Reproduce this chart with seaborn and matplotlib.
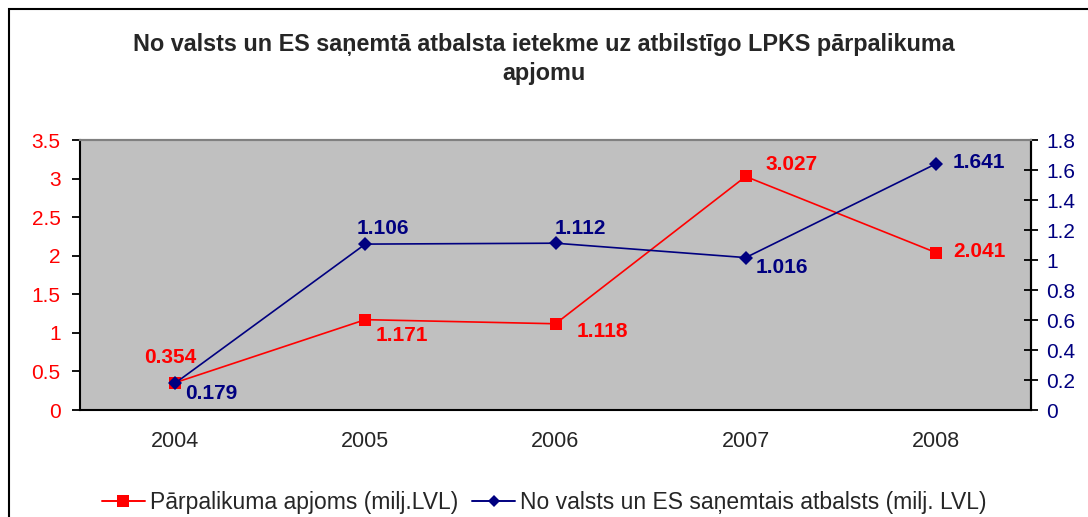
import pandas as pd
import matplotlib.pyplot as plt
import seaborn as sns
from matplotlib.lines import Line2D
from matplotlib.patches import Rectangle

years = ["2004", "2005", "2006", "2007", "2008"]
surplus = [0.354, 1.171, 1.118, 3.027, 2.041]
support = [0.179, 1.106, 1.112, 1.016, 1.641]

surplus_name = "Pārpalikuma apjoms (milj.LVL)"
support_name = "No valsts un ES saņemtais atbalsts (milj. LVL)"
title = "No valsts un ES saņemtā atbalsta ietekme uz atbilstīgo LPKS pārpalikuma\napjomu"

RED = "#FF0000"
NAVY = "#000080"

sns.set_style("white")
plt.rcParams["font.family"] = ["Liberation Sans", "DejaVu Sans"]

df = pd.DataFrame({"year": years, "surplus": surplus, "support": support})

fig = plt.figure(figsize=(10.88, 5.17), dpi=100)
ax = fig.add_axes([80 / 1088, 107 / 517, 951 / 1088, 270 / 517])
ax2 = ax.twinx()

sns.lineplot(data=df, x="year", y="surplus", ax=ax, color=RED, marker="s",
             markersize=8, markeredgewidth=0, linewidth=1.2, sort=False)
sns.lineplot(data=df, x="year", y="support", ax=ax2, color=NAVY, marker="D",
             markersize=7, markeredgewidth=0, linewidth=1.2, sort=False)

ax.set_facecolor("#C0C0C0")
ax.set_xlim(-0.5, 4.5)
ax.set_ylim(0, 3.5)
ax2.set_ylim(0, 1.8)
ax.set_yticks([0, 0.5, 1, 1.5, 2, 2.5, 3, 3.5])
ax.set_yticklabels(["0", "0.5", "1", "1.5", "2", "2.5", "3", "3.5"])
ax2.set_yticks([0, 0.2, 0.4, 0.6, 0.8, 1, 1.2, 1.4, 1.6, 1.8])
ax2.set_yticklabels(["0", "0.2", "0.4", "0.6", "0.8", "1", "1.2", "1.4", "1.6", "1.8"])
ax.set_xlabel("")
ax.set_ylabel("")
ax2.set_ylabel("")

# category labels in the middle, ticks on the boundaries
ax.set_xticks(range(len(years)))
ax.set_xticklabels(years, fontsize=15.5)
ax.set_xticks([i - 0.5 for i in range(len(years) + 1)], minor=True)
ax.tick_params(axis="x", which="major", length=0, pad=15)
ax.tick_params(axis="x", which="minor", direction="inout", length=11, width=1.3, color="black")
ax.tick_params(axis="y", direction="out", length=6, width=1.3, colors=RED, labelsize=15, pad=8)
ax.tick_params(axis="y", color="black")
ax2.tick_params(axis="y", direction="inout", length=10, width=1.3, colors=NAVY, labelsize=15, pad=6)
ax2.tick_params(axis="y", color="black")

for a in (ax, ax2):
    for side in ("left", "bottom", "right"):
        a.spines[side].set_color("black")
        a.spines[side].set_linewidth(1.5)
    a.spines["top"].set_color("#808080")
    a.spines["top"].set_linewidth(1.5)
    a.grid(False)
ax2.spines["left"].set_visible(False)
ax2.spines["bottom"].set_visible(False)

# data labels (offsets in pixels -> points)
px = 0.72
red_off = [(-5, 25, "center"), (10, -16, "left"), (21, -8, "left"), (20, 12, "left"), (17, 1, "left")]
blue_off = [(10, -10, "left"), (-9, 16, "left"), (-1, 15, "left"), (10, -10, "left"), (17, 1, "left")]
for i, v in enumerate(surplus):
    dx, dy, ha = red_off[i]
    ax.annotate(f"{v:.3f}", (i, v), xytext=(dx * px, dy * px), textcoords="offset points",
                ha=ha, va="center", color=RED, fontsize=15, fontweight="bold")
for i, v in enumerate(support):
    dx, dy, ha = blue_off[i]
    ax2.annotate(f"{v:.3f}", (i, v), xytext=(dx * px, dy * px), textcoords="offset points",
                 ha=ha, va="center", color=NAVY, fontsize=15, fontweight="bold")

fig.text(0.5, 1 - 59 / 517, title, ha="center", va="center", fontsize=16.8,
         fontweight="bold", linespacing=1.35)

handles = [
    Line2D([], [], color=RED, marker="s", markersize=8, markeredgewidth=0, linewidth=1.4),
    Line2D([], [], color=NAVY, marker="D", markersize=6, markeredgewidth=0, linewidth=1.4),
]
fig.legend(handles, [surplus_name, support_name], loc="center", ncol=2,
           bbox_to_anchor=(0.5, 1 - 503 / 517), frameon=False, fontsize=16.5,
           handlelength=1.9, handletextpad=0.2, columnspacing=0.6)

# outer chart frame, running off the right and bottom edges
fig.patches.append(Rectangle((9 / 1088, -0.1), 1.2, 1 - 9 / 517 + 0.1, transform=fig.transFigure,
                             fill=False, edgecolor="black", linewidth=1.5))

fig.savefig("out.png", dpi=100)
